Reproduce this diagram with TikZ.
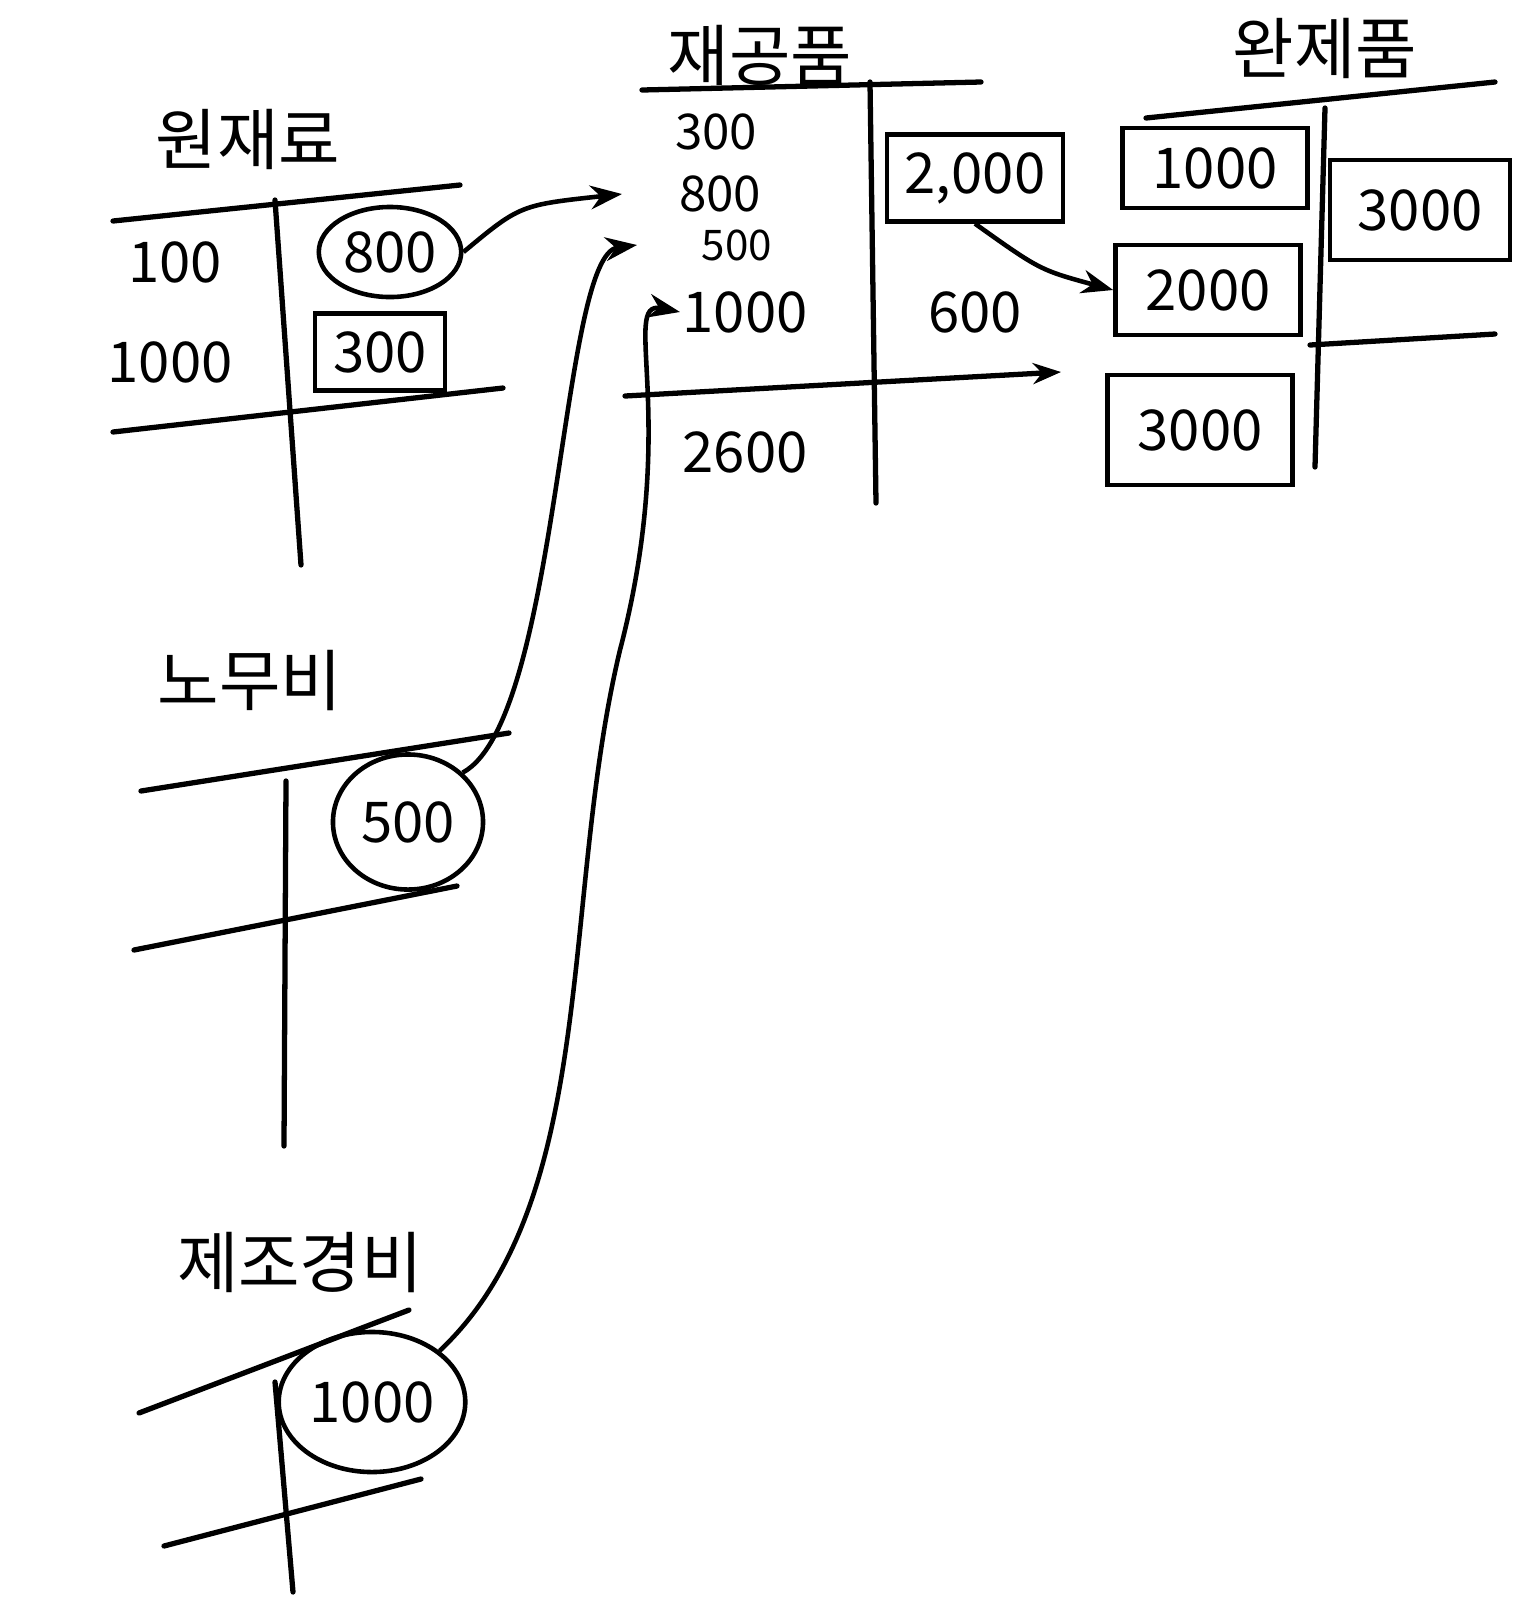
\documentclass[tikz,border=0pt]{standalone}
\usepackage{fontspec}
\setmainfont{Noto Sans CJK KR}
\usetikzlibrary{shapes.geometric, arrows.meta, positioning}

\begin{document}
\begin{tikzpicture}[
    x=0.01cm, y=-0.01cm,
    title/.style={font=\fontsize{19}{21}\selectfont},
    entry/.style={font=\fontsize{16}{18}\selectfont, inner sep=1pt},
    small/.style={font=\fontsize{14}{15}\selectfont, inner sep=1pt},
    circled/.style={entry, ellipse, draw, line width=1.3pt, inner sep=1pt},
    boxed/.style={entry, rectangle, draw, line width=1.3pt, inner sep=5pt},
    rule/.style={line width=1.5pt, line cap=round},
    arrow/.style={-{Stealth[length=9pt]}, line width=1.3pt}
  ]
    \useasboundingbox[fill=white] (0,0) rectangle (1536,1611);

    % 원재료
    \node[title] (rawT) at (248,139) {원재료};
    \draw[rule] (113,221) -- (460,185);
    \draw[rule] (275,200) -- (301,565);
    \draw[rule] (113,432) -- (503,388);
    \node[entry] (raw100)  at (175,262) {100};
    \node[entry] (raw1000) at (170,362) {1000};
    \node[circled, minimum width=1.2cm, minimum height=0.9cm] (raw800) at (390,252) {800};
    \node[boxed, minimum width=1.3cm] (raw300) at (380,352) {300};

    % 노무비
    \node[title] (labT) at (250,680) {노무비};
    \draw[rule] (141,791) -- (509,733);
    \draw[rule] (286,781) -- (284,1146);
    \draw[rule] (134,950) -- (457,886);
    \node[circled, minimum width=1.5cm, minimum height=1.35cm] (lab500) at (408,822) {500};

    % 제조경비
    \node[title] (ohT) at (300,1262) {제조경비};
    \draw[rule] (139,1413) -- (409,1310);
    \draw[rule] (275,1382) -- (293,1592);
    \draw[rule] (164,1546) -- (421,1479);
    \node[circled, minimum width=1.55cm, minimum height=1.4cm] (oh1000) at (372,1402) {1000};

    % 재공품
    \node[title] (wipT) at (760,55) {재공품};
    \draw[rule] (642,90) -- (981,82);
    \draw[rule] (870,82) -- (876,503);
    \draw[rule, -{Stealth[length=8pt]}] (625,396) -- (1061,372);
    \node[small] (wip300)  at (716,132) {300};
    \node[small] (wip800)  at (720,194) {800};
    \node[small, font=\fontsize{12}{13}\selectfont] (wip500) at (737,245) {500};
    \node[entry] (wip1000) at (745,312) {1000};
    \node[entry] (wip2600) at (745,452) {2600};
    \node[boxed, minimum width=1.75cm, minimum height=0.8cm] (wip2000) at (975,178) {2,000};
    \node[entry] (wip600)  at (975,312) {600};

    % 완제품
    \node[title] (fgT) at (1325,48) {완제품};
    \draw[rule] (1146,118) -- (1495,82);
    \draw[rule] (1325,108) -- (1315,467);
    \draw[rule] (1310,345) -- (1495,334);
    \node[boxed, minimum width=1.85cm, minimum height=0.8cm] (fg1000) at (1215,168) {1000};
    \node[boxed, minimum width=1.85cm, minimum height=0.9cm] (fg2000) at (1208,290) {2000};
    \node[boxed, minimum width=1.85cm, minimum height=1.1cm] (fg3000) at (1200,430) {3000};
    \node[boxed, minimum width=1.8cm, minimum height=1.0cm] (fgR3000) at (1420,210) {3000};

    \draw[arrow] (raw800.east) .. controls (520,205) .. (wip800.west -| 622,200);
    \draw[arrow] (lab500.north east) .. controls (560,720) and (560,255) .. (wip500.west -| 637,248);
    \draw[arrow] (oh1000.north east) .. controls (600,1200) and (560,900) .. (620,650)
                 .. controls (680,420) and (620,300) .. (wip1000.west -| 680,298);
    \draw[arrow] (wip2000.south) .. controls (1040,270) .. (fg2000.west);
\end{tikzpicture}
\end{document}
